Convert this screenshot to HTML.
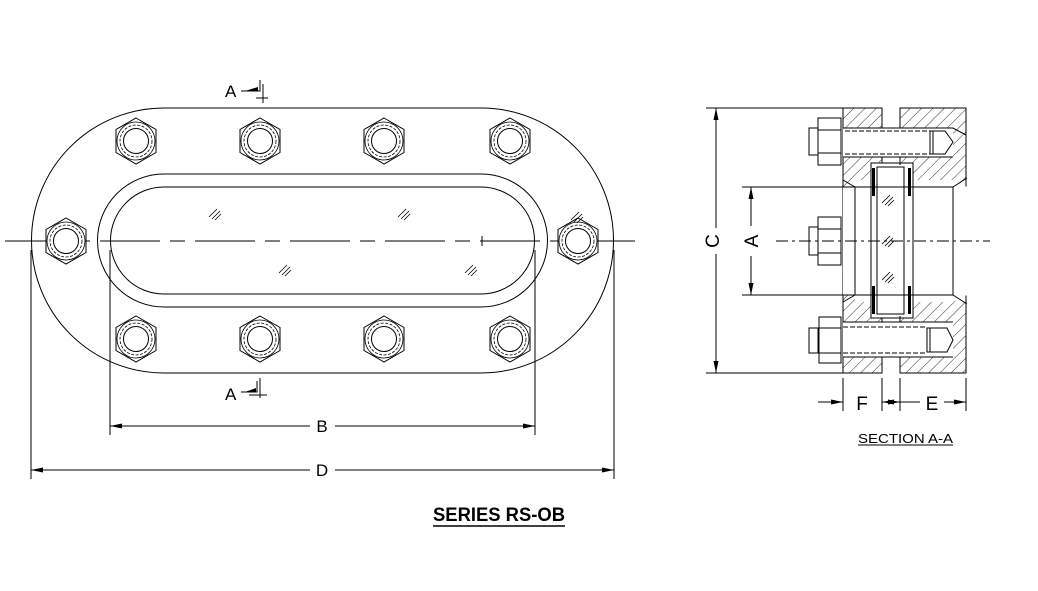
<!DOCTYPE html>
<html><head><meta charset="utf-8"><style>
html,body{margin:0;padding:0;background:#fff;}
svg{display:block;}
text{font-family:"Liberation Sans",Arial,sans-serif;fill:#000;}
</style></head><body>
<svg width="1038" height="591" viewBox="0 0 1038 591" xmlns="http://www.w3.org/2000/svg">
<defs>
<pattern id="h" width="8" height="8" patternUnits="userSpaceOnUse" patternTransform="rotate(45)">
<line x1="0" y1="0" x2="0" y2="8" stroke="#000" stroke-width="0.8"/>
</pattern>
<g id="nut">
<polygon points="0,-23 20,-11.5 20,11.5 0,23 -20,11.5 -20,-11.5" fill="#fff" stroke="#000" stroke-width="1"/>
<circle r="19" fill="none" stroke="#000" stroke-width="0.8"/>
<circle r="16" fill="none" stroke="#000" stroke-width="0.8" stroke-dasharray="3,1.5"/>
<circle r="12.5" fill="none" stroke="#000" stroke-width="1"/>
</g>
<g id="gl" stroke="#000" stroke-width="0.8">
<line x1="0" y1="8" x2="8" y2="0"/><line x1="3" y1="10" x2="11" y2="2"/><line x1="6" y1="11" x2="12" y2="5"/>
</g>
</defs>
<g fill="none" stroke="#000" stroke-width="1">
<path d="M164,108 H481 A132.5,132.5 0 0 1 481,373 H164 A132.5,132.5 0 0 1 164,108 Z"/>
<path d="M164,174 H481 A66.5,66.5 0 0 1 481,307 H164 A66.5,66.5 0 0 1 164,174 Z"/>
<path d="M164,187 H481 A53.5,53.5 0 0 1 481,294 H164 A53.5,53.5 0 0 1 164,187 Z"/>
<path d="M5,241 H640" stroke-dasharray="60,10,15,10"/>
<line x1="482" y1="236" x2="482" y2="246"/>
<line x1="31" y1="250" x2="31" y2="479"/>
<line x1="110" y1="250" x2="110" y2="435"/>
<line x1="535" y1="250" x2="535" y2="435"/>
<line x1="614" y1="250" x2="614" y2="479"/>
<line x1="110" y1="426" x2="310" y2="426"/><line x1="335" y1="426" x2="535" y2="426"/>
<line x1="31" y1="470" x2="310" y2="470"/><line x1="335" y1="470" x2="614" y2="470"/>
</g>
<g fill="#000">
<polygon points="110,426 122,423.5 122,428.5"/><polygon points="535,426 523,423.5 523,428.5"/>
<polygon points="31,470 43,467.5 43,472.5"/><polygon points="614,470 602,467.5 602,472.5"/>
</g>
<text x="322" y="432" font-size="17" text-anchor="middle">B</text>
<text x="322" y="476" font-size="17" text-anchor="middle">D</text>
<use href="#nut" x="136" y="141"/><use href="#nut" x="260" y="141"/><use href="#nut" x="384" y="141"/><use href="#nut" x="510" y="141"/>
<use href="#nut" x="136" y="339"/><use href="#nut" x="260" y="339"/><use href="#nut" x="384" y="339"/><use href="#nut" x="510" y="339"/>
<use href="#nut" x="66" y="241"/><use href="#nut" x="578" y="241"/>
<use href="#gl" x="209" y="209"/><use href="#gl" x="398" y="209"/><use href="#gl" x="279" y="265"/><use href="#gl" x="465" y="265"/><use href="#gl" x="571" y="212"/>
<text x="225" y="97" font-size="17">A</text>
<g stroke="#000" stroke-width="1" fill="none"><path d="M241,91 H260 V80 M263,84 V103 M256,98 H268"/></g>
<polygon points="245,91 258,91 258,87" fill="#000"/>
<text x="225" y="400" font-size="17">A</text>
<g stroke="#000" stroke-width="1" fill="none"><path d="M241,392 H257 V381 M260,378 V398 M249,395 H267"/></g>
<polygon points="245,392 256,392 256,388" fill="#000"/>

<g stroke="#000" stroke-width="1">
<rect x="843" y="108" width="39" height="265" fill="url(#h)"/>
<rect x="900" y="108" width="66" height="265" fill="url(#h)"/>
</g>
<g fill="#fff" stroke="none">
<rect x="883" y="107" width="16" height="267"/>
<polygon points="843,187 855,187 855,295 843,295"/>
<polygon points="855,180 953,180 967,187 967,295 953,302 855,302" fill="#fff"/>
<rect x="871" y="163" width="42" height="155"/>
<rect x="843" y="128" width="110" height="29"/>
<rect x="843" y="322" width="110" height="35"/>
</g>
<g fill="none" stroke="#000" stroke-width="1">
<path d="M843,187 L855,187 L855,295 L843,295"/>
<path d="M843,180 L855,187 M843,302 L855,295"/>
<path d="M855,187 H953 V295 H855"/>
<path d="M953,187 L967,178 M953,295 L967,304"/>
<path d="M882,108 V128 M882,157 V163 M882,318 V322 M882,357 V373"/>
<path d="M900,108 V128 M900,157 V165 M900,316 V322 M900,357 V373"/>
<path d="M871,163 H913 V318 H871 Z"/>
<rect x="877" y="167" width="27" height="147"/>
<path d="M843,128 H953 L966,135 M843,157 H953"/>
<rect x="809" y="128" width="9" height="27" fill="#fff"/>
<rect x="818" y="118" width="23" height="47" fill="#fff"/>
<line x1="818" y1="130" x2="841" y2="130"/><line x1="818" y1="153" x2="841" y2="153"/>
<path d="M845,131 H930 M845,154 H930" stroke-dasharray="5,2"/>
<path d="M930,131 H945 L953,142 L945,154 H930 Z"/><line x1="933" y1="131" x2="933" y2="154"/>
<rect x="809" y="227" width="9" height="28" fill="#fff"/>
<rect x="818" y="217" width="23" height="48" fill="#fff"/>
<line x1="818" y1="229" x2="841" y2="229"/><line x1="818" y1="253" x2="841" y2="253"/>
<path d="M843,322 H953 M843,357 H953"/>
<rect x="809" y="328" width="9" height="25" fill="#fff"/>
<rect x="819" y="317" width="22" height="46" fill="#fff"/>
<line x1="819" y1="328" x2="841" y2="328"/><line x1="819" y1="353" x2="841" y2="353"/>
<path d="M843,327 H927 M843,353 H927" stroke-dasharray="5,2"/>
<path d="M927,328 H947 L953,340 L947,352 H927 Z"/><line x1="930" y1="328" x2="930" y2="352"/>
<path d="M776,241 H990" stroke-dasharray="12,4,3,4"/>
<line x1="706" y1="108" x2="843" y2="108"/><line x1="706" y1="373" x2="843" y2="373"/>
<line x1="716" y1="108" x2="716" y2="228"/><line x1="716" y1="254" x2="716" y2="373"/>
<line x1="742" y1="187" x2="843" y2="187"/><line x1="742" y1="295" x2="843" y2="295"/>
<line x1="751" y1="187" x2="751" y2="226"/><line x1="751" y1="256" x2="751" y2="295"/>
<line x1="843" y1="378" x2="843" y2="411"/><line x1="882" y1="378" x2="882" y2="411"/>
<line x1="900" y1="378" x2="900" y2="411"/><line x1="966" y1="378" x2="966" y2="411"/>
<line x1="818" y1="402" x2="843" y2="402"/><line x1="882" y1="402" x2="900" y2="402"/><line x1="900" y1="402" x2="920" y2="402"/><line x1="944" y1="402" x2="966" y2="402"/>
</g>
<g fill="#000">
<rect x="872" y="168" width="3" height="28"/><rect x="908" y="168" width="3" height="28"/>
<rect x="872" y="286" width="3" height="28"/><rect x="908" y="286" width="3" height="28"/>
<polygon points="716,108 713.5,120 718.5,120"/><polygon points="716,373 713.5,361 718.5,361"/>
<polygon points="751,187 748.5,199 753.5,199"/><polygon points="751,295 748.5,283 753.5,283"/>
<polygon points="843,402 831,399.5 831,404.5"/><polygon points="882,402 894,399.5 894,404.5"/>
<polygon points="900,402 888,399.5 888,404.5"/><polygon points="966,402 954,399.5 954,404.5"/>
</g>
<use href="#gl" x="882" y="195"/><use href="#gl" x="882" y="236"/><use href="#gl" x="882" y="272"/>
<text x="0" y="0" font-size="19" text-anchor="middle" transform="translate(719,241) rotate(-90)">C</text>
<text x="0" y="0" font-size="19" text-anchor="middle" transform="translate(758,241) rotate(-90)">A</text>
<text x="862" y="410" font-size="19" text-anchor="middle">F</text>
<text x="932" y="410" font-size="19" text-anchor="middle">E</text>
<text x="858" y="443" font-size="12.5" textLength="95" lengthAdjust="spacingAndGlyphs">SECTION A-A</text>
<line x1="858" y1="445" x2="953" y2="445" stroke="#000" stroke-width="1"/>
<text x="433" y="521" font-size="19" font-weight="bold" textLength="132" lengthAdjust="spacingAndGlyphs">SERIES RS-OB</text>
<line x1="433" y1="526" x2="565" y2="526" stroke="#000" stroke-width="1.6"/>
</svg>
</body></html>
